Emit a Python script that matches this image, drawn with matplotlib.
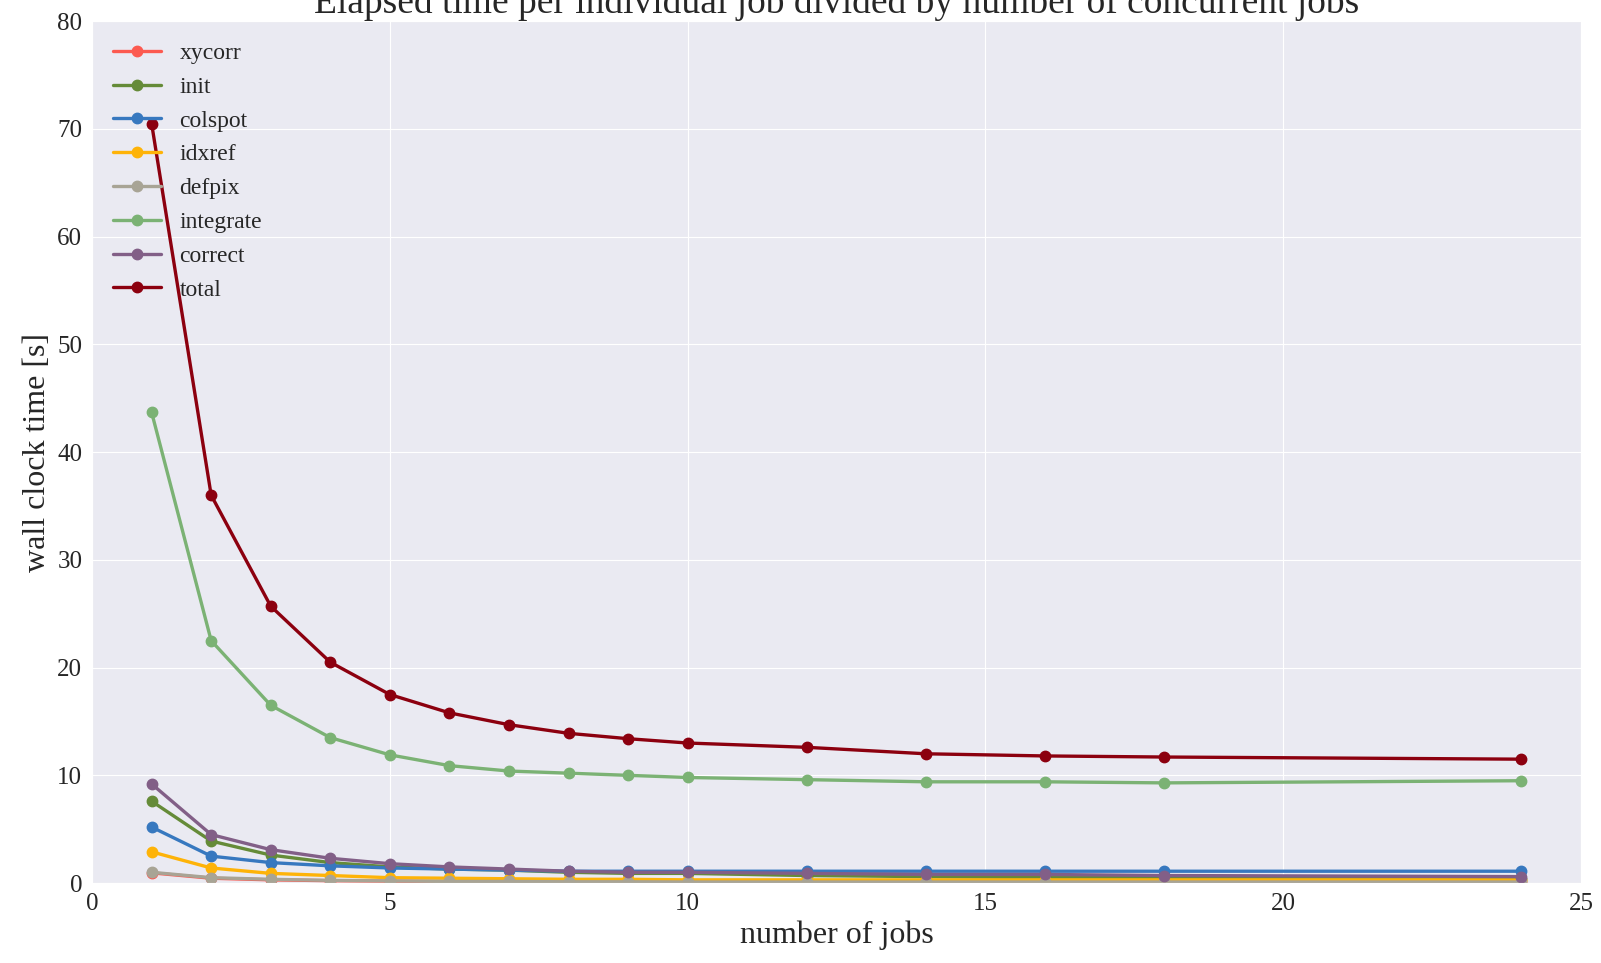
import matplotlib
matplotlib.use('Agg')
import matplotlib.pyplot as plt
import seaborn as sns

sns.set_style('darkgrid')
plt.rcParams['font.family'] = ['Liberation Serif', 'DejaVu Serif']

jobs = [1, 2, 3, 4, 5, 6, 7, 8, 9, 10, 12, 14, 16, 18, 24]

xycorr = [0.95, 0.45, 0.3, 0.22, 0.18, 0.14, 0.13, 0.11, 0.1, 0.1, 0.09, 0.08, 0.08, 0.08, 0.08]
init = [7.6, 3.9, 2.6, 1.9, 1.5, 1.3, 1.2, 1.0, 0.9, 0.9, 0.7, 0.6, 0.5, 0.5, 0.4]
colspot = [5.2, 2.5, 1.9, 1.6, 1.4, 1.3, 1.2, 1.1, 1.1, 1.1, 1.1, 1.1, 1.1, 1.1, 1.1]
idxref = [2.9, 1.4, 0.9, 0.7, 0.5, 0.45, 0.4, 0.35, 0.35, 0.3, 0.3, 0.3, 0.3, 0.3, 0.3]
defpix = [1.0, 0.5, 0.35, 0.25, 0.2, 0.15, 0.15, 0.12, 0.12, 0.1, 0.1, 0.1, 0.1, 0.1, 0.1]
integrate = [43.7, 22.5, 16.5, 13.5, 11.9, 10.9, 10.4, 10.2, 10.0, 9.8, 9.6, 9.4, 9.4, 9.3, 9.5]
correct = [9.2, 4.5, 3.1, 2.3, 1.8, 1.5, 1.3, 1.1, 1.0, 1.0, 0.9, 0.8, 0.8, 0.7, 0.6]
total = [70.5, 36.0, 25.7, 20.5, 17.5, 15.8, 14.7, 13.9, 13.4, 13.0, 12.6, 12.0, 11.8, 11.7, 11.5]

names = ['xycorr', 'init', 'colspot', 'idxref', 'defpix', 'integrate', 'correct', 'total']
series = [xycorr, init, colspot, idxref, defpix, integrate, correct, total]
colors = ['#fc5a50', '#658b38', '#3778bf', '#feb308', '#a8a495', '#7bb274', '#825f87', '#8c000f']

fig = plt.figure(figsize=(16.01, 9.63), dpi=100)
ax = fig.add_axes([0.0575, 0.083, 0.93, 0.895])

for name, vals, c in zip(names, series, colors):
    ax.plot(jobs, vals, '-o', color=c, label=name, lw=2.4, markersize=7.5)

ax.set_xlim(0, 25)
ax.set_ylim(0, 80)
ax.set_xticks(range(0, 26, 5))
ax.set_yticks(range(0, 81, 10))
ax.tick_params(labelsize=18)
ax.set_xlabel('number of jobs', fontsize=23)
ax.set_ylabel('wall clock time [s]', fontsize=23)
ax.set_title('Elapsed time per individual job divided by number of concurrent jobs', fontsize=27, pad=6)
ax.legend(loc='upper left', fontsize=17, frameon=False, labelspacing=0.52)

fig.savefig('out.png', dpi=100)
